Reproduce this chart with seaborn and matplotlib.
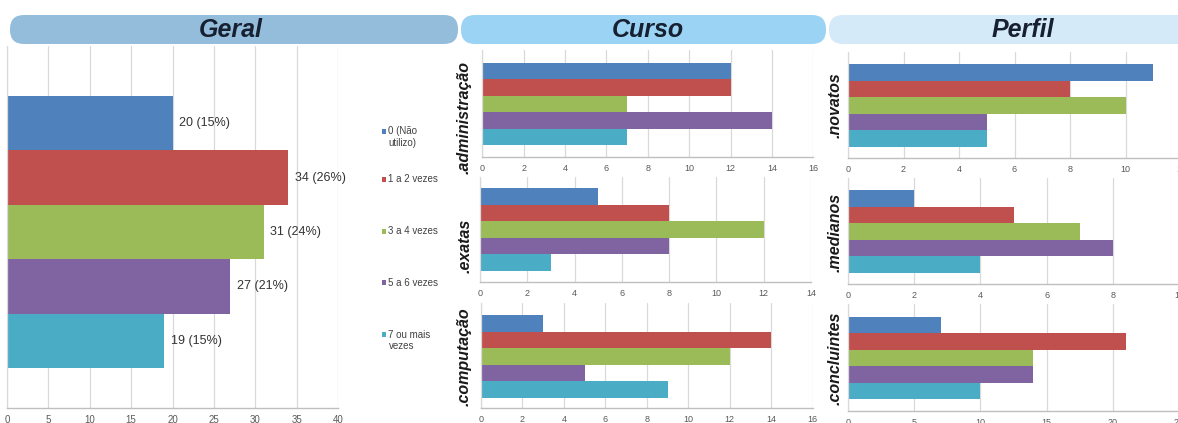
import matplotlib
matplotlib.use("Agg")
import matplotlib.pyplot as plt
from matplotlib.patches import FancyBboxPatch, Rectangle
import seaborn as sns
import pandas as pd

# ---- data -------------------------------------------------------------
frequencias = ["0 (Não utilizo)", "1 a 2 vezes", "3 a 4 vezes", "5 a 6 vezes", "7 ou mais vezes"]
legenda = ["0 (Não\nutilizo)", "1 a 2 vezes", "3 a 4 vezes", "5 a 6 vezes", "7 ou mais\nvezes"]
cores = ["#4F81BD", "#C0504D", "#9BBB59", "#8064A2", "#4BACC6"]

geral = [20, 34, 31, 27, 19]

administracao = [12, 12, 7, 14, 7]
exatas = [5, 8, 12, 8, 3]
computacao = [3, 14, 12, 5, 9]

novatos = [11, 8, 10, 5, 5]
medianos = [2, 5, 7, 8, 4]
concluintes = [7, 21, 14, 14, 10]

secoes = ["Geral", "Curso", "Perfil"]

# ---- style ------------------------------------------------------------
sns.set_theme(style="white")
plt.rcParams["font.family"] = ["Liberation Sans", "DejaVu Sans"]

W, H = 1178, 423
fig = plt.figure(figsize=(W / 100, H / 100), dpi=100)
fig.patch.set_facecolor("white")

# pixel-space overlay for the header ribbons and the legend
bg = fig.add_axes([0, 0, 1, 1], zorder=-1)
bg.set_xlim(0, W)
bg.set_ylim(H, 0)
bg.axis("off")

GRID = "#D9D9D9"
TICK = "#595959"


def px_axes(x0, x1, y0, y1):
    return fig.add_axes([x0 / W, 1 - y1 / H, (x1 - x0) / W, (y1 - y0) / H])


def painel(values, geom, step, tick_size=6.5):
    x0, x1, xmax, ytop, ybot, btop, bbot = geom
    ax = px_axes(x0, x1, ytop, ybot)
    df = pd.DataFrame({"freq": frequencias, "n": values})
    sns.barplot(data=df, x="n", y="freq", hue="freq", palette=cores,
                order=frequencias, hue_order=frequencias, width=1.0,
                saturation=1, legend=False, linewidth=0, orient="h", ax=ax)
    unit = (bbot - btop) / 5
    ax.set_ylim(4.5 + (ybot - bbot) / unit, -0.5 - (btop - ytop) / unit)
    ax.set_xlim(0, xmax)
    ax.set_xticks(range(0, xmax + 1, step))
    ax.set_yticks([])
    ax.set_xlabel("")
    ax.set_ylabel("")
    ax.grid(axis="x", color=GRID, linewidth=0.9)
    ax.set_axisbelow(True)
    for s in ("top", "right"):
        ax.spines[s].set_visible(False)
    ax.spines["bottom"].set_color("#BFBFBF")
    ax.spines["left"].set_color(GRID)
    ax.spines["bottom"].set_linewidth(1.0)
    ax.spines["left"].set_linewidth(0.9)
    ax.tick_params(axis="x", length=0, pad=5, labelsize=tick_size, labelcolor=TICK)
    ax.set_facecolor("none")
    return ax


# ---- header ribbons -----------------------------------------------------
faixas = [
    (10, 458, "#93BDDB", 231),
    (461, 826, "#9AD3F3", 648),
    (829, 1200, "#D5EAF8", 1023),
]
for (xa, xb, cor, xc), nome in zip(faixas, secoes):
    bg.add_patch(FancyBboxPatch((xa, 15), xb - xa, 29,
                                boxstyle="round,pad=0,rounding_size=14",
                                facecolor=cor, edgecolor="none"))
    bg.text(xc, 30, nome, ha="center", va="center", fontsize=18,
            fontweight="bold", fontstyle="italic", color="#172030")

# ---- Geral --------------------------------------------------------------
ax_g = painel(geral, (7, 338, 40, 46, 408, 96, 368), 5, tick_size=7)
total = sum(geral)
rotulos = [f"{v} ({round(100 * v / total)}%)" for v in geral]
for cont, rot in zip(ax_g.containers, rotulos):
    ax_g.bar_label(cont, labels=[rot], padding=5, fontsize=9, color="#333333")

# ---- legend -------------------------------------------------------------
leg_y = [132, 180, 232, 283, 335]
for y, cor, texto in zip(leg_y, cores, legenda):
    bg.add_patch(Rectangle((381.5, y - 2.5), 4.5, 4.5, facecolor=cor, edgecolor="none"))
    bg.text(388.5, y - 5.5, texto, ha="left", va="top", fontsize=7,
            color="#404040", linespacing=1.15)

# ---- Curso / Perfil -------------------------------------------------------
curso = [
    (administracao, ".administração", (482.3, 813.3, 16, 50, 157, 62.7, 145), 2, (464, 118)),
    (exatas, ".exatas", (480, 811, 14, 177, 282, 188, 271), 2, (465, 246)),
    (computacao, ".computação", (481, 812.7, 16, 303, 408, 315, 397.7), 2, (464, 357)),
]
perfil = [
    (novatos, ".novatos", (848, 1181, 12, 52, 158, 64, 147), 2, (835, 105)),
    (medianos, ".medianos", (848, 1179, 10, 178, 284, 190, 273), 2, (835, 232)),
    (concluintes, ".concluintes", (848, 1179, 25, 304, 411, 317, 399), 5, (835, 358)),
]
for vals, nome, geom, step, (lx, ly) in curso + perfil:
    ax = painel(vals, geom, step)
    ax.set_ylabel(nome, fontsize=11.5, fontweight="bold", fontstyle="italic",
                  color="#1A1A1A")
    ax.yaxis.set_label_coords(lx, ly, transform=bg.transData)
    ax.yaxis.label.set_va("center")

fig.savefig("out.png", dpi=100)
